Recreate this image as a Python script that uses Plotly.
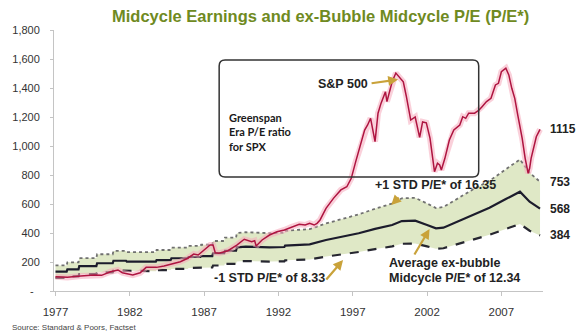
import plotly.graph_objects as go

# ---- data -------------------------------------------------------------
# S&P 500 index level (decimal year, index)
sp_year = [1977.0, 1977.8, 1978.7, 1979.6, 1980.1, 1980.7, 1981.2, 1981.5, 1982.2, 1982.7,
           1983.1, 1983.8, 1984.3, 1985.0, 1985.4, 1985.9, 1986.3, 1986.6, 1987.0, 1987.4,
           1987.6, 1987.75, 1988.0, 1988.6, 1989.2, 1989.7, 1990.2, 1990.4, 1990.5, 1990.9,
           1991.4, 1991.9, 1992.4, 1992.9, 1993.4, 1993.8, 1994.1, 1994.4, 1994.6, 1994.8,
           1995.2, 1995.7, 1996.2, 1996.6, 1996.9, 1997.2, 1997.4, 1997.8, 1998.0, 1998.2,
           1998.5, 1998.7, 1998.9, 1999.2, 1999.3, 1999.65, 1999.9, 2000.1, 2000.4, 2000.6,
           2000.9, 2001.2, 2001.5, 2001.7, 2001.95, 2002.2, 2002.4, 2002.5, 2002.7, 2002.85,
           2002.96, 2003.2, 2003.5, 2003.8, 2004.2, 2004.4, 2004.6, 2004.8, 2005.2, 2005.5,
           2005.7, 2006.0, 2006.3, 2006.6, 2006.8, 2007.0, 2007.3, 2007.5, 2007.7, 2007.9,
           2008.1, 2008.4, 2008.6, 2008.8, 2008.9, 2009.0, 2009.35, 2009.6]
sp_index = [99, 94, 103, 110, 108, 133, 145, 126, 110, 126,
            163, 163, 172, 191, 202, 226, 255, 248, 283, 317,
            317, 264, 260, 278, 317, 357, 340, 347, 310, 352,
            386, 409, 421, 443, 460, 455, 467, 455, 467, 490,
            570, 639, 697, 719, 777, 892, 961, 1110, 1145, 1191,
            1030, 1226, 1294, 1374, 1306, 1443, 1503, 1478, 1443, 1345,
            1179, 1200, 1060, 1166, 1160, 1053, 892, 823, 881, 869,
            834, 915, 1041, 1110, 1145, 1202, 1191, 1226, 1226, 1248,
            1271, 1306, 1329, 1421, 1432, 1512, 1536, 1490, 1398, 1329,
            1214, 1053, 915, 812, 846, 915, 1064, 1115]

# Midcycle earnings per share (decimal year, EPS)
eps_year = [1977.0, 1977.75, 1977.8, 1978.55, 1978.6, 1979.75, 1979.8, 1980.85, 1980.9,
            1981.75, 1981.8, 1983.75, 1983.8, 1984.75, 1984.8, 1985.9, 1985.95, 1986.75,
            1986.8, 1987.55, 1987.6, 1988.35, 1988.4, 1989.15, 1989.2, 1989.8, 1991.4,
            1992.4, 1992.45, 1993.0, 1994.1, 1995.2, 1996.3, 1997.4, 1998.5, 1999.65,
            2000.3, 2001.2, 2002.0, 2002.6, 2003.1, 2004.0, 2005.1, 2006.2, 2007.3,
            2008.25, 2008.9, 2009.6]
eps_mid = [10.8, 10.8, 12.1, 12.1, 13.9, 13.9, 15.5, 15.5, 16.9,
           16.9, 16.4, 16.4, 17.3, 17.3, 18.3, 18.3, 19.0, 19.0,
           19.5, 19.5, 21.1, 21.1, 22.5, 22.5, 24.4, 24.8, 24.4,
           24.6, 25.4, 25.7, 26.1, 28.5, 30.3, 32.3, 34.7, 36.9,
           39.1, 39.3, 36.9, 35.0, 35.4, 38.7, 42.9, 46.5, 51.4,
           55.5, 49.9, 46.05]

# ex-bubble midcycle P/E* multiples
pe_avg = 12.34
pe_hi = 16.35
pe_lo = 8.33

x_ticks = [1977, 1982, 1987, 1992, 1997, 2002, 2007]
y_ticks = [0, 200, 400, 600, 800, 1000, 1200, 1400, 1600, 1800]
y_ticktext = ["-&nbsp;&nbsp;"] + [f"{v:,}" for v in y_ticks[1:]]

line_avg = [e * pe_avg for e in eps_mid]
line_hi = [e * pe_hi for e in eps_mid]
line_lo = [e * pe_lo for e in eps_mid]

# ---- layout geometry ----------------------------------------------------
W, H = 580, 335
ML, MR, MT, MB = 46, 36.6, 30, 44
PW, PH = W - ML - MR, H - MT - MB


def px(x):
    return (x - ML) / PW


def py(y):
    return (H - MB - y) / PH


FONT = "Arial, Liberation Sans, sans-serif"
GOLD = "#c9a23a"
DARK = "#222222"

fig = go.Figure()

# green band between -1 STD and +1 STD
fig.add_trace(go.Scatter(x=eps_year, y=line_lo, mode="lines", line=dict(width=0),
                         hoverinfo="skip", showlegend=False))
fig.add_trace(go.Scatter(x=eps_year, y=line_hi, mode="lines", line=dict(width=0),
                         fill="tonexty", fillcolor="#dfe8c6", hoverinfo="skip",
                         showlegend=False))
fig.add_trace(go.Scatter(x=eps_year, y=line_hi, mode="lines",
                         line=dict(color="#707070", width=1.8, dash="dot"), showlegend=False))
fig.add_trace(go.Scatter(x=eps_year, y=line_lo, mode="lines",
                         line=dict(color="#262630", width=2.2, dash="dash"), showlegend=False))
fig.add_trace(go.Scatter(x=eps_year, y=line_avg, mode="lines",
                         line=dict(color="#1c1c2c", width=2.2), showlegend=False))
# S&P 500 with soft pink halo
fig.add_trace(go.Scatter(x=sp_year, y=sp_index, mode="lines",
                         line=dict(color="rgba(246,170,188,0.55)", width=6), showlegend=False))
fig.add_trace(go.Scatter(x=sp_year, y=sp_index, mode="lines",
                         line=dict(color="#ae1440", width=1.5), showlegend=False))

# rounded annotation box
x0, x1, y0, y1, r = 214, 478, 60, 177, 6
rx, ry = r / PW, r / PH
X0, X1, Y0, Y1 = px(x0), px(x1), py(y0), py(y1)
path = (f"M {X0+rx},{Y0} L {X1-rx},{Y0} Q {X1},{Y0} {X1},{Y0-ry} "
        f"L {X1},{Y1+ry} Q {X1},{Y1} {X1-rx},{Y1} L {X0+rx},{Y1} "
        f"Q {X0},{Y1} {X0},{Y1+ry} L {X0},{Y0-ry} Q {X0},{Y0} {X0+rx},{Y0} Z")
shapes = [dict(type="path", path=path, xref="paper", yref="paper",
               line=dict(color="#333333", width=1.5), layer="above")]

annotations = []


def text(x, y, s, size=12.5, color=DARK, xanchor="left", bold=True, family=FONT):
    annotations.append(dict(x=px(x), y=py(y), xref="paper", yref="paper",
                            text=f"<b>{s}</b>" if bold else s,
                            showarrow=False, xanchor=xanchor, yanchor="middle",
                            font=dict(family=family, size=size, color=color)))


def arrow(xt, yt, xh, yh):
    annotations.append(dict(x=px(xh), y=py(yh), ax=xt - xh, ay=yt - yh,
                            xref="paper", yref="paper", axref="pixel", ayref="pixel",
                            text="", showarrow=True, arrowhead=2, arrowsize=0.9,
                            arrowwidth=2.2, arrowcolor=GOLD))


text(317, 16, "Midcycle Earnings and ex-Bubble Midcycle P/E (P/E*)", size=16.5,
     color="#6f8a22", xanchor="center")
text(313, 84, "S&P 500", size=12.5)
arrow(368, 83.5, 396, 79.5)

for i, s in enumerate(["Greenspan", "Era P/E ratio", "for SPX"]):
    text(222, 117 + 14.5 * i, s, size=11, family="Lato, Carlito, sans-serif",
         bold=True, color="#1a1a1a")

text(370, 185, "+1 STD P/E* of 16.35", size=12.5)
arrow(398, 196, 389, 205)

text(385, 262.5, "Average ex-bubble", size=12.5)
text(385, 277.5, "Midcycle P/E* of 12.34", size=12.5)
arrow(412, 256, 428, 229)

text(207, 277.5, "-1 STD P/E* of 8.33", size=12.5)
arrow(322, 281, 340, 260)

# end-of-series value labels
for val in (sp_index[-1], line_hi[-1], line_avg[-1], line_lo[-1]):
    annotations.append(dict(x=1.0, y=val, xref="paper", yref="y", text=f"<b>{round(val)}</b>",
                            showarrow=False, xanchor="left", yanchor="middle", xshift=5,
                            font=dict(family=FONT, size=12, color=DARK)))

annotations.append(dict(x=px(1), y=py(327), xref="paper", yref="paper",
                        text="Source: Standard & Poors, Factset", showarrow=False,
                        xanchor="left", yanchor="middle",
                        font=dict(family=FONT, size=8, color="#444444")))

fig.update_layout(
    width=W, height=H, margin=dict(l=ML, r=MR, t=MT, b=MB, pad=0),
    paper_bgcolor="white", plot_bgcolor="white",
    shapes=shapes, annotations=annotations, showlegend=False,
    xaxis=dict(range=[1976.9, 2009.8], tickvals=x_ticks, ticktext=[str(t) for t in x_ticks],
               showgrid=False, zeroline=False, showline=True, linecolor="#c4c4c4", linewidth=1,
               ticks="outside", ticklen=4, tickcolor="#c4c4c4", ticklabelstandoff=6,
               tickfont=dict(family=FONT, size=11.5, color="#333333")),
    yaxis=dict(range=[0, 1800], tickvals=y_ticks, ticktext=y_ticktext,
               showgrid=False, zeroline=False, showline=True, linecolor="#c4c4c4", linewidth=1,
               ticks="outside", ticklen=3, tickcolor="#c4c4c4", ticklabelstandoff=8,
               tickfont=dict(family=FONT, size=11, color="#333333")),
)

fig.write_html("out.html")
